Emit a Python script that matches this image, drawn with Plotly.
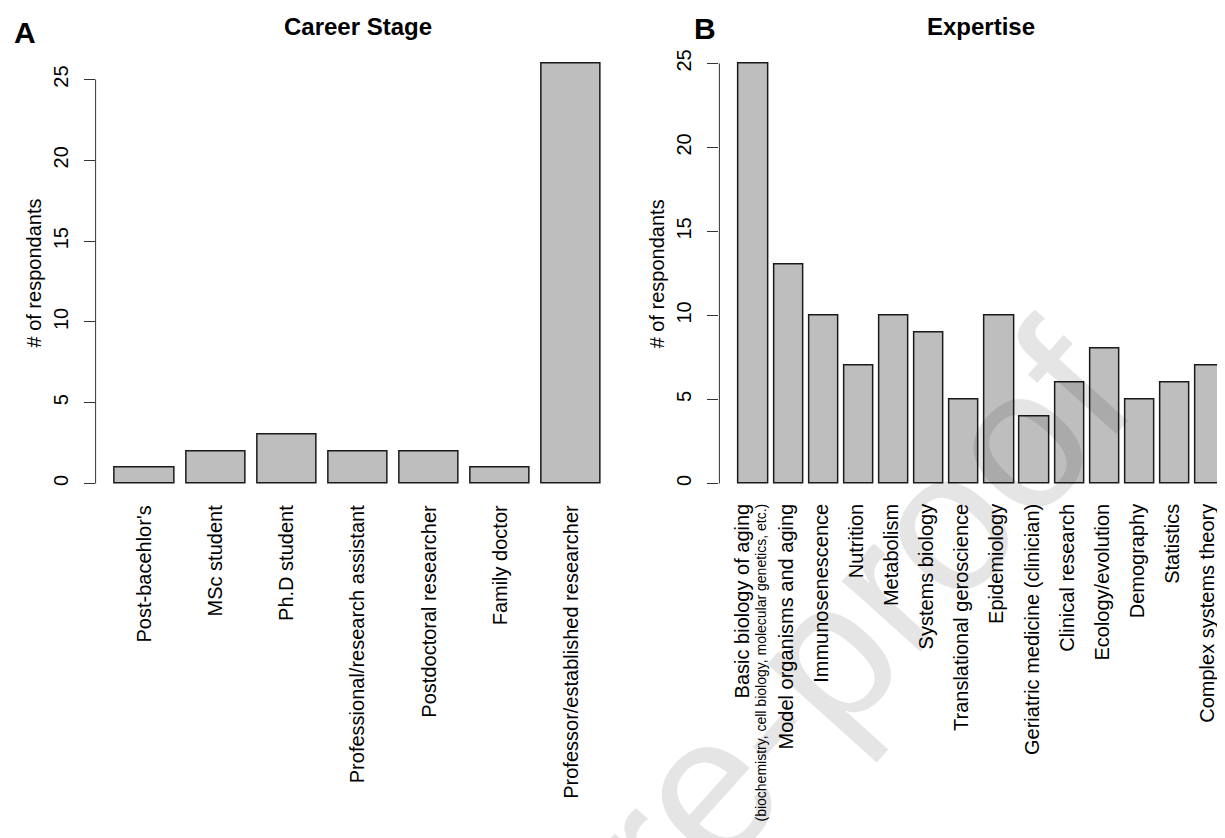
import plotly.graph_objects as go

# ---- data ----
career_labels = ["Post-bacehlor's", "MSc student", "Ph.D student",
                 "Professional/research assistant", "Postdoctoral researcher",
                 "Family doctor", "Professor/established researcher"]
career_counts = [1, 2, 3, 2, 2, 1, 26]

expertise_labels = [
    "Basic biology of aging", "Model organisms and aging", "Immunosenescence",
    "Nutrition", "Metabolism", "Systems biology", "Translational geroscience",
    "Epidemiology", "Geriatric medicine (clinician)", "Clinical research",
    "Ecology/evolution", "Demography", "Statistics", "Complex systems theory"]
expertise_counts = [25, 13, 10, 7, 10, 9, 5, 10, 4, 6, 8, 5, 6, 7]
expertise_notes = {"Basic biology of aging":
                   "(biochemistry, cell biology, molecular genetics, etc.)"}

y_ticks = [0, 5, 10, 15, 20, 25]
y_title = "# of respondants"

# ---- styling ----
W, H = 1225, 838
FONT = "Liberation Sans, Arial, Helvetica, sans-serif"
BAR_FILL = "#BEBEBE"
BAR_EDGE = "#1a1a1a"
AXIS_COL = "#333333"
BAR_W = 1 / 1.2

Y_TOP, Y_BOT = 38.6, 492.3
ydom = [1 - Y_BOT / H, 1 - Y_TOP / H]
L1, R1 = 87.6, 612.4
L2 = 711.4


def exp_text(lbl):
    t = "<span style='font-size:20px'>%s</span>" % lbl
    if lbl in expertise_notes:
        t += "<br><span style='font-size:14px'>%s</span>" % expertise_notes[lbl]
    return t


fig = go.Figure()
fig.add_trace(go.Bar(x=career_labels, y=career_counts, xaxis="x", yaxis="y",
                     width=BAR_W, marker=dict(color=BAR_FILL, line=dict(color=BAR_EDGE, width=1.5)),
                     showlegend=False))
fig.add_trace(go.Bar(x=expertise_labels, y=expertise_counts, xaxis="x2", yaxis="y2",
                     width=BAR_W, marker=dict(color=BAR_FILL, line=dict(color=BAR_EDGE, width=1.5)),
                     showlegend=False))

xcommon = dict(showline=False, ticks="", tickangle=-90, showgrid=False, zeroline=False,
               type="category")
ycommon = dict(showline=False, ticks="outside", ticklen=11, tickwidth=1, tickcolor=AXIS_COL,
               tickangle=-90, showgrid=False, zeroline=False, tickvals=y_ticks,
               ticklabelstandoff=8,
               tickfont=dict(family=FONT, size=20, color="black"))

fig.update_layout(
    width=W, height=H, template="none",
    margin=dict(l=0, r=0, t=0, b=0),
    paper_bgcolor="white", plot_bgcolor="white",
    font=dict(family=FONT, color="black"),
    bargap=0,
    xaxis=dict(domain=[L1 / W, R1 / W], range=[-0.69, 6.69], anchor="y",
               tickfont=dict(family=FONT, size=20, color="black"), **xcommon),
    yaxis=dict(domain=ydom, range=[-1.04, 27.04], anchor="x", **ycommon),
    xaxis2=dict(domain=[L2 / W, 1.0], range=[-0.968, 13.65], anchor="y2",
                tickmode="array", tickvals=expertise_labels,
                ticktext=[exp_text(l) for l in expertise_labels],
                tickfont=dict(family=FONT, size=12.5, color="black"), **xcommon),
    yaxis2=dict(domain=ydom, range=[-1.0, 26.0], anchor="x2", **ycommon),
)

# axis lines spanning first to last tick (R style)
for xr, yr in (("x domain", "y"), ("x2 domain", "y2")):
    fig.add_shape(type="line", xref=xr, yref=yr, x0=0, x1=0,
                  y0=min(y_ticks), y1=max(y_ticks), line=dict(color=AXIS_COL, width=1))

ann = dict(xref="paper", yref="paper", showarrow=False, xanchor="center", yanchor="middle")
# y axis titles
for xa in (L1, L2):
    fig.add_annotation(text=y_title, x=(xa - 61.5) / W, y=1 - (Y_TOP + Y_BOT) / 2 / H,
                       textangle=-90, font=dict(family=FONT, size=20, color="black"), **ann)
# panel titles and letters
fig.add_annotation(text="<b>Career Stage</b>", x=350 / W, y=1 - 18 / H,
                   font=dict(family=FONT, size=24, color="black"), **ann)
fig.add_annotation(text="<b>Expertise</b>", x=973 / W, y=1 - 18 / H,
                   font=dict(family=FONT, size=24, color="black"), **ann)
fig.add_annotation(text="<b>A</b>", x=17 / W, y=1 - 24 / H,
                   font=dict(family=FONT, size=30, color="black"), **ann)
fig.add_annotation(text="<b>B</b>", x=697 / W, y=1 - 20 / H,
                   font=dict(family=FONT, size=30, color="black"), **ann)

# watermark
fig.add_annotation(text="Journal Pre-proof", x=565 / W, y=1 - 925 / H, textangle=-48,
                   font=dict(family=FONT, size=200, color="rgba(0,0,0,0.1)"), **ann)

fig.write_html("out.html")
